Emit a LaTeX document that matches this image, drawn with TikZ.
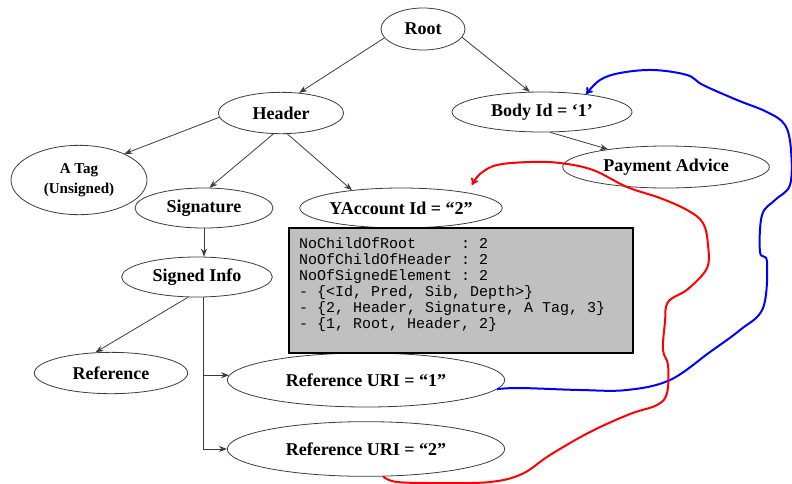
\documentclass[tikz,border=0pt]{standalone}
\usepackage{fontspec}
\setmainfont{Liberation Serif}
\setmonofont{Liberation Mono}
\usetikzlibrary{shapes.geometric,arrows.meta}
\definecolor{boxgray}{RGB}{192,192,192}
\definecolor{linegray}{RGB}{60,60,60}

\begin{document}
\begin{tikzpicture}[x=0.75pt,y=-0.75pt,->,>={Stealth[length=6pt,width=4.5pt]},
                line width=0.6pt,every edge/.append style={linegray},
                tree node/.style={ellipse,draw=linegray,inner sep=0pt,
                  font=\fontsize{13.5}{16}\selectfont\bfseries},
                info box/.style={rectangle,draw=black,line width=1.5pt,fill=boxgray,
                  inner xsep=7.5pt,inner ysep=7pt,
                  font=\fontsize{11.25}{12}\selectfont\ttfamily},
                hand line/.style={line width=1.5pt,-{To[length=5pt,width=6pt]}}]
  \useasboundingbox (0,0) rectangle (792,483);

  \node[tree node,minimum width=63pt,minimum height=31.5pt] (root) at (423,29) {Root};
  \node[tree node,minimum width=94pt,minimum height=31pt] (header) at (281,113) {Header};
  \node[tree node,minimum width=135pt,minimum height=30pt] (body) at (542,112) {Body Id = ‘1’};
  \node[tree node,minimum width=155pt,minimum height=31.5pt] (payment) at (666,167) {Payment Advice};
  \node[tree node,minimum width=102pt,minimum height=52pt,align=center,
        font=\fontsize{11.3}{15}\selectfont\bfseries] (atag) at (79,180) {A Tag\\(Unsigned)};
  \node[tree node,minimum width=103.5pt,minimum height=30pt] (signature) at (204,208) {Signature};
  \node[tree node,minimum width=151.5pt,minimum height=30pt] (yaccount) at (401,208) {YAccount Id = “2”};
  \node[tree node,minimum width=113pt,minimum height=30pt] (signedinfo) at (197,277) {Signed Info};
  \node[tree node,minimum width=115pt,minimum height=31pt] (reference) at (111,373) {Reference};
  \node[tree node,minimum width=208pt,minimum height=40.5pt] (refuri1) at (366,380) {Reference URI = “1”};
  \node[tree node,minimum width=208pt,minimum height=41pt] (refuri2) at (366,449) {Reference URI = “2”};

  \node[info box,anchor=north west] (info) at (288,227)
    {\parbox[c][80pt][t]{243pt}{NoChildOfRoot\ \ \ \ \ : 2\\
      NoOfChildOfHeader : 2\\
      NoOfSignedElement : 2\\
      - \{<Id, Pred, Sib, Depth>\}\\
      - \{2, Header, Signature, A Tag, 3\}\\
      - \{1, Root, Header, 2\}}};

  \path
    (root.193) edge (header.48)
    (root.348) edge (body.121)
    (header.184) edge (atag.30)
    (header.250) edge (signature.75)
    (header.287) edge (yaccount.160)
    (body.292) edge (payment.163)
    (signature.south) edge (signature.south |- signedinfo.north)
    (signedinfo.246) edge (reference.127)
  ;
  \draw[linegray] ([xshift=4.5pt]signedinfo.south) |- (refuri1.178);
  \draw[linegray] ([xshift=4.5pt]signedinfo.south) |- (refuri2.west);

  % hand drawn links
  \coordinate (redtip) at (472,185);
  \draw[hand line,blue] plot[smooth,tension=0.6] coordinates {(refuri1.-4) (520,388) (580,390)
    (627,390) (670,380) (710,352) (740,330) (763,308) (767,262) (760,252) (762,215)
    (775,200) (790,185) (791,150) (785,125) (767,112) (737,100) (703,85) (687,75)
    (653,70) (620,73) (600,80) (body.22)};
  \draw[hand line,red] plot[smooth,tension=0.6] coordinates {(refuri2.-58) (397,482) (440,483)
    (490,482) (522,474) (550,455) (590,432) (630,414) (657,405) (667,393) (668,365)
    (663,350) (665,322) (668,302) (688,289) (707,268) (708,245) (703,223) (687,210)
    (660,198) (627,187) (593,170) (560,163) (530,162) (497,165) (480,174) (redtip)};
\end{tikzpicture}
\end{document}
